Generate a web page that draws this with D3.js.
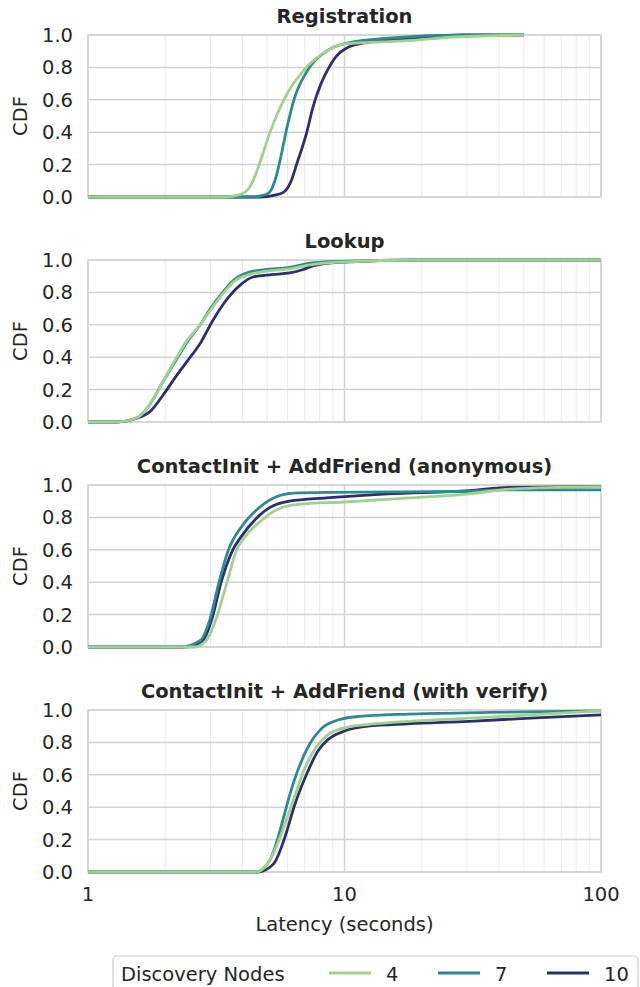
<!DOCTYPE html>
<html>
<head>
<meta charset="utf-8">
<script src="https://cdn.jsdelivr.net/npm/d3@7"></script>
<style>
  body { margin: 0; background: #fff; }
  text { font-family: "DejaVu Sans", sans-serif; fill: #262626; }
</style>
</head>
<body>
<script>
// titles, series, ticks
var titles = ["Registration", "Lookup", "ContactInit + AddFriend (anonymous)", "ContactInit + AddFriend (with verify)"];
var nodes = ["4", "7", "10"];
var colors = ["#a0d18f", "#2e8a8e", "#2b2e6f"];
var yTicks = [0, 0.2, 0.4, 0.6, 0.8, 1.0];
var xTicks = [1, 10, 100];

// [latency seconds, cdf]
var reg4 = [[1,0],[3.4,0],[3.8,0.01],[4.1,0.03],[4.4,0.1],[4.65,0.2],[5.1,0.39],[5.8,0.6],[7.1,0.8],[8.5,0.9],[10,0.945],[17.7,0.965],[25.5,0.985],[50,1]];
var reg7 = [[1,0],[4.4,0],[4.8,0.01],[5.1,0.03],[5.4,0.12],[5.65,0.25],[5.95,0.42],[6.35,0.6],[7.1,0.77],[8.5,0.9],[10.6,0.955],[14.7,0.98],[30,1],[50,1]];
var reg10 = [[1,0],[4.7,0],[5.3,0.01],[5.8,0.03],[6.2,0.1],[6.5,0.2],[7.1,0.39],[7.55,0.56],[8.1,0.7],[8.7,0.8],[9.3,0.87],[10.2,0.92],[12.3,0.955],[17.7,0.98],[30,1],[50,1]];

var look4 = [[1,0],[1.3,0],[1.52,0.02],[1.73,0.1],[1.93,0.23],[2.2,0.39],[2.45,0.51],[2.74,0.6],[3.0,0.69],[3.35,0.79],[3.73,0.87],[4.25,0.91],[4.9,0.93],[6.1,0.945],[7.35,0.97],[9.2,0.985],[20,1],[100,1]];
var look7 = [[1,0],[1.3,0],[1.52,0.02],[1.73,0.1],[1.93,0.23],[2.2,0.38],[2.45,0.5],[2.74,0.6],[3.0,0.7],[3.35,0.8],[3.73,0.88],[4.25,0.925],[4.9,0.94],[6.1,0.955],[7.35,0.98],[9.2,0.99],[20,1],[100,1]];
var look10 = [[1,0],[1.3,0],[1.52,0.02],[1.76,0.07],[1.97,0.17],[2.2,0.28],[2.45,0.38],[2.75,0.49],[3.05,0.62],[3.45,0.75],[3.95,0.85],[4.4,0.895],[5.2,0.91],[6.1,0.92],[6.85,0.94],[7.6,0.965],[9.5,0.985],[20,1],[100,1]];

var anon4 = [[1,0],[2.6,0],[2.89,0.04],[3.17,0.18],[3.47,0.39],[3.8,0.6],[4.09,0.68],[4.74,0.78],[5.48,0.85],[6.6,0.88],[10,0.895],[17.7,0.92],[30.6,0.945],[44,0.975],[100,0.99]];
var anon7 = [[1,0],[2.3,0],[2.74,0.04],[3.0,0.18],[3.23,0.39],[3.53,0.6],[4.0,0.75],[4.57,0.85],[5.29,0.92],[6.35,0.95],[8.5,0.955],[30,0.96],[40,0.97],[100,0.97]];
var anon10 = [[1,0],[2.4,0],[2.8,0.04],[3.05,0.18],[3.29,0.39],[3.67,0.6],[3.95,0.68],[4.57,0.8],[5.1,0.86],[6.1,0.9],[8.5,0.92],[14.7,0.945],[30.6,0.965],[44,0.985],[100,0.99]];

var ver4 = [[1,0],[4.5,0],[5.1,0.07],[5.5,0.18],[5.9,0.31],[6.5,0.5],[6.84,0.6],[7.6,0.75],[8.66,0.85],[10,0.89],[12.3,0.91],[17.7,0.93],[30.6,0.95],[53,0.97],[100,0.995]];
var ver7 = [[1,0],[4.5,0],[5.1,0.07],[5.4,0.17],[5.75,0.32],[6.1,0.47],[6.55,0.62],[7.2,0.77],[8.2,0.89],[9.5,0.94],[11.4,0.96],[17.7,0.975],[36.8,0.985],[100,0.995]];
var ver10 = [[1,0],[4.6,0],[5.29,0.05],[5.9,0.23],[6.35,0.4],[7.1,0.6],[7.9,0.75],[8.66,0.82],[10,0.87],[12.3,0.9],[17.7,0.915],[30.6,0.93],[53,0.95],[100,0.97]];

var panelData = [[reg4, reg7, reg10], [look4, look7, look10], [anon4, anon7, anon10], [ver4, ver7, ver10]];

var width = 640, height = 987;
var left = 88, right = 601, top0 = 35, ph = 162, step = 225;

var svg = d3.select("body").append("svg")
  .attr("width", width).attr("height", height);

var x = d3.scaleLog().domain([1, 100]).range([left, right]);
var minorTicks = [];
[1, 10].forEach(function(b) { for (var k = 2; k <= 9; k++) minorTicks.push(b * k); });

panelData.forEach(function(series, p) {
  var top = top0 + p * step;
  var y = d3.scaleLinear().domain([0, 1]).range([top + ph, top]);
  var g = svg.append("g");

  // minor grid
  g.selectAll(".minor").data(minorTicks).enter().append("line")
    .attr("x1", function(d) { return x(d); }).attr("x2", function(d) { return x(d); })
    .attr("y1", top).attr("y2", top + ph)
    .attr("stroke", "#ebebeb").attr("stroke-width", 1);
  // major grid
  g.selectAll(".xmaj").data(xTicks).enter().append("line")
    .attr("x1", function(d) { return x(d); }).attr("x2", function(d) { return x(d); })
    .attr("y1", top).attr("y2", top + ph)
    .attr("stroke", "#d3d3d3").attr("stroke-width", 1.5);
  g.selectAll(".ymaj").data(yTicks).enter().append("line")
    .attr("x1", left).attr("x2", right)
    .attr("y1", function(d) { return y(d); }).attr("y2", function(d) { return y(d); })
    .attr("stroke", "#d3d3d3").attr("stroke-width", 1.5);
  // frame
  g.append("rect").attr("x", left).attr("y", top).attr("width", right - left).attr("height", ph)
    .attr("fill", "none").attr("stroke", "#d3d3d3").attr("stroke-width", 1.5);

  // y tick labels
  g.selectAll(".yt").data(yTicks).enter().append("text")
    .attr("x", 73).attr("y", function(d) { return y(d); }).attr("dy", "0.36em")
    .attr("text-anchor", "end").style("font-size", "19.5px")
    .text(function(d) { return d.toFixed(1); });

  g.append("text")
    .attr("transform", "translate(27," + (top + ph / 2) + ") rotate(-90)")
    .attr("text-anchor", "middle").style("font-size", "19.5px").text("CDF");

  g.append("text").attr("x", (left + right) / 2).attr("y", top - 12)
    .attr("text-anchor", "middle").style("font-size", "19.5px").style("font-weight", "bold")
    .text(titles[p]);

  var line = d3.line()
    .x(function(d) { return x(d[0]); })
    .y(function(d) { return y(d[1]); })
    .curve(d3.curveMonotoneX);

  // draw 10, 7, 4 so that green is on top like the picture
  [2, 1, 0].forEach(function(i) {
    g.append("path").datum(series[i])
      .attr("d", line).attr("fill", "none")
      .attr("stroke", colors[i]).attr("stroke-width", 2.8);
  });
});

// x axis labels
var bottom = top0 + 3 * step + ph;
svg.selectAll(".xt").data(xTicks).enter().append("text")
  .attr("x", function(d) { return x(d); }).attr("y", bottom + 29)
  .attr("text-anchor", "middle").style("font-size", "19.5px")
  .text(function(d) { return d; });
svg.append("text").attr("x", (left + right) / 2).attr("y", bottom + 59)
  .attr("text-anchor", "middle").style("font-size", "19.5px").text("Latency (seconds)");

// legend
var lg = svg.append("g");
lg.append("rect").attr("x", 113).attr("y", 956).attr("width", 525).attr("height", 50)
  .attr("rx", 4).attr("fill", "#fff").attr("stroke", "#cccccc").attr("stroke-width", 1.2);
lg.append("text").attr("x", 121).attr("y", 981).style("font-size", "19.5px").text("Discovery Nodes");
var lx = [329, 438, 547];
nodes.forEach(function(n, i) {
  lg.append("line").attr("x1", lx[i]).attr("x2", lx[i] + 42).attr("y1", 973).attr("y2", 973)
    .attr("stroke", colors[i]).attr("stroke-width", 2.8);
  lg.append("text").attr("x", lx[i] + 57).attr("y", 981).style("font-size", "19.5px").text(n);
});
</script>
</body>
</html>
